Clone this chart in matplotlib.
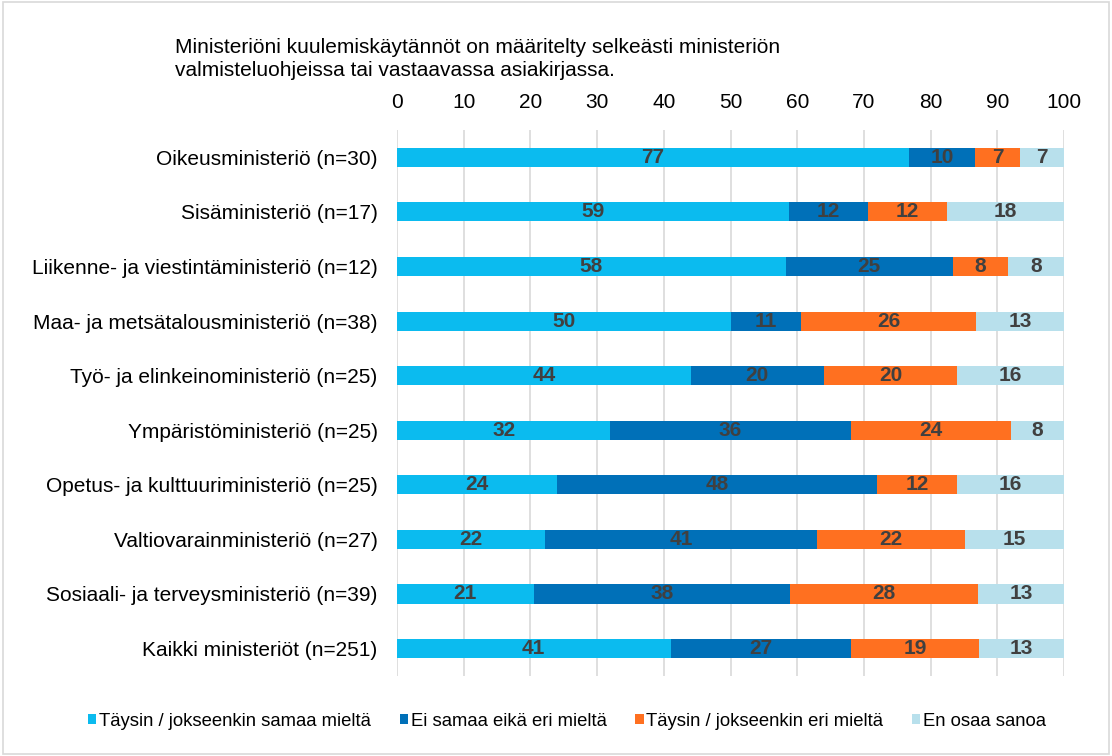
import matplotlib.pyplot as plt
import numpy as np
from matplotlib.patches import Rectangle

plt.rcParams['font.family'] = ['Liberation Sans', 'DejaVu Sans']

# ministeriöt (ylhäältä alas)
ministeriot = [
    'Oikeusministeriö (n=30)',
    'Sisäministeriö (n=17)',
    'Liikenne- ja viestintäministeriö (n=12)',
    'Maa- ja metsätalousministeriö (n=38)',
    'Työ- ja elinkeinoministeriö (n=25)',
    'Ympäristöministeriö (n=25)',
    'Opetus- ja kulttuuriministeriö (n=25)',
    'Valtiovarainministeriö (n=27)',
    'Sosiaali- ja terveysministeriö (n=39)',
    'Kaikki ministeriöt (n=251)',
]

# prosenttiosuudet
samaa = [76.7, 58.8, 58.3, 50.0, 44.0, 32.0, 24.0, 22.2, 20.5, 41.0]
ei_samaa_eika_eri = [10.0, 11.8, 25.0, 10.5, 20.0, 36.0, 48.0, 40.7, 38.4, 27.1]
eri = [6.7, 11.8, 8.3, 26.3, 20.0, 24.0, 12.0, 22.2, 28.2, 19.1]
en_osaa = [6.7, 17.6, 8.3, 13.2, 16.0, 8.0, 16.0, 14.8, 12.8, 12.7]

sarjat = ['Täysin / jokseenkin samaa mieltä', 'Ei samaa eikä eri mieltä',
          'Täysin / jokseenkin eri mieltä', 'En osaa sanoa']
varit = ['#0BBBEF', '#0070B8', '#FF7020', '#B8E0EC']
otsikko = ('Ministeriöni kuulemiskäytännöt on määritelty selkeästi ministeriön\n'
           'valmisteluohjeissa tai vastaavassa asiakirjassa.')

fig = plt.figure(figsize=(11.12, 7.56), dpi=100)
ax = fig.add_axes([0.357, 0.106, 0.600, 0.722])

y = np.arange(len(ministeriot))
vasen = np.zeros(len(ministeriot))
for arvot, nimi, vari in zip([samaa, ei_samaa_eika_eri, eri, en_osaa], sarjat, varit):
    arvot = np.array(arvot)
    bars = ax.barh(y, arvot, left=vasen, height=0.35, color=vari, label=nimi, zorder=2)
    ax.bar_label(bars, labels=[f'{v:.0f}' for v in np.floor(arvot + 0.5)],
                 label_type='center', color='#404040', fontsize=15, fontweight='bold')
    vasen += arvot

ax.set_xlim(0, 100)
ax.set_ylim(len(ministeriot) - 0.5, -0.5)
ax.set_xticks(range(0, 101, 10))
ax.xaxis.tick_top()
ax.set_yticks(y)
ax.set_yticklabels(ministeriot)
ax.tick_params(axis='both', length=0, labelsize=15, colors='black')
ax.tick_params(axis='x', pad=13)
ax.tick_params(axis='y', pad=14)
ax.grid(axis='x', color='#D9D9D9', linewidth=1.2, zorder=0)
for s in ax.spines.values():
    s.set_visible(False)

fig.text(0.157, 0.922, otsikko, fontsize=15, va='center', ha='left', linespacing=1.25)

ax.legend(loc='center', bbox_to_anchor=(0.51, 0.046), bbox_transform=fig.transFigure,
          ncol=4, frameon=False, fontsize=13.3, handlelength=0.45, handleheight=0.5,
          handletextpad=0.15, columnspacing=1.55)

fig.patches.append(Rectangle((0.003, 0.002), 0.994, 0.995, transform=fig.transFigure,
                             fill=False, edgecolor='#D9D9D9', linewidth=1.2))

fig.savefig('out.png', dpi=100)
